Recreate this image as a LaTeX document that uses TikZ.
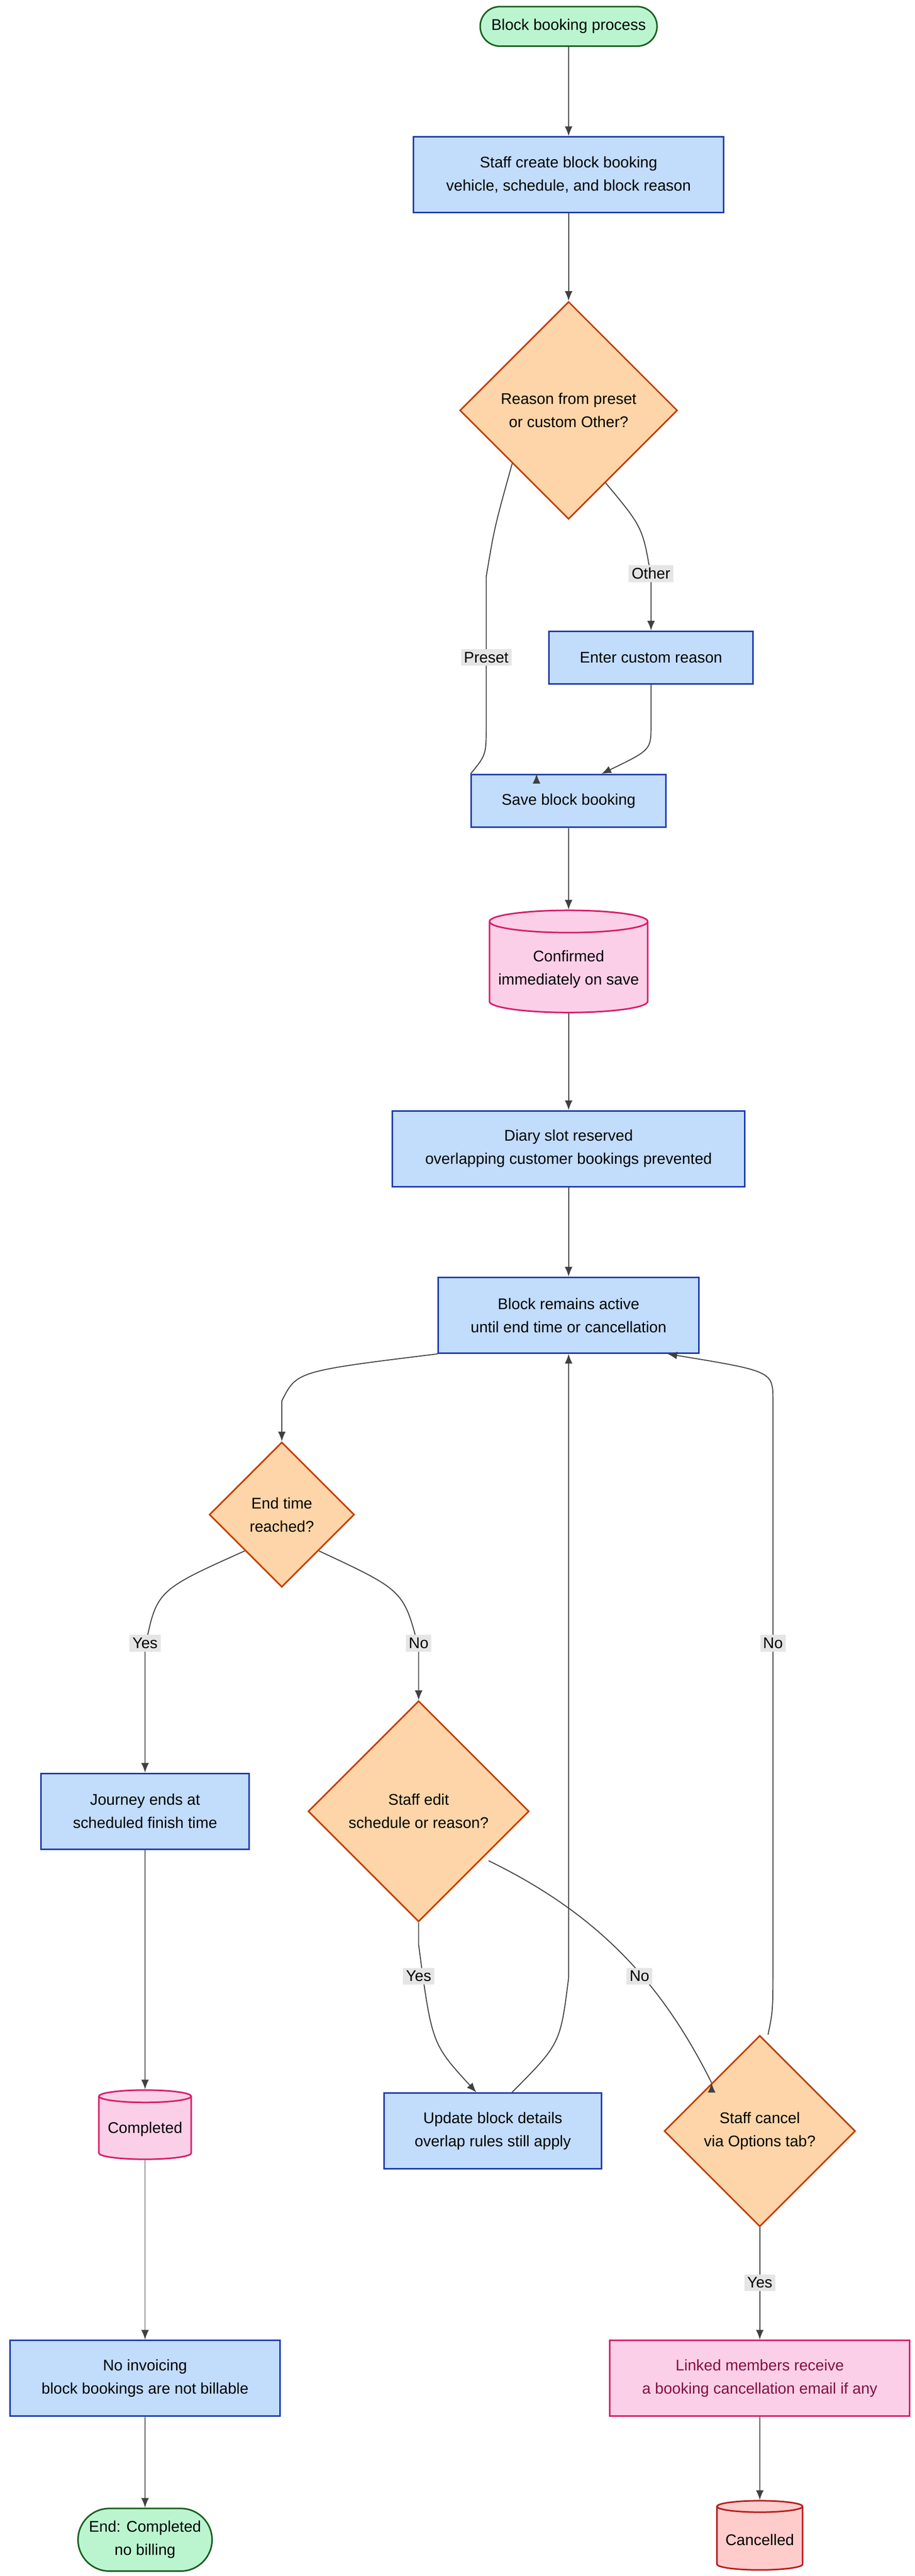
\documentclass[tikz,border=0pt]{standalone}
\usepackage{fontspec}
\setmainfont{Liberation Sans}
\usetikzlibrary{shapes.geometric}
\usetikzlibrary{arrows.meta}

\definecolor{procfill}{HTML}{C2DCFC}
\definecolor{procline}{HTML}{1F3DB0}
\definecolor{decfill}{HTML}{FDD5A8}
\definecolor{decline}{HTML}{C43C00}
\definecolor{dbfill}{HTML}{FBCFE8}
\definecolor{dbline}{HTML}{D81B6A}
\definecolor{termfill}{HTML}{BBF5D0}
\definecolor{termline}{HTML}{1B5E20}
\definecolor{cxfill}{HTML}{FFCCCC}
\definecolor{cxline}{HTML}{B71C1C}

\tikzset{
  base/.style={draw, line width=0.8pt, align=center, font=\fontsize{8}{12}\selectfont, inner sep=2pt},
  proc/.style={base, rectangle, fill=procfill, draw=procline},
  dec/.style={base, diamond, aspect=1, fill=decfill, draw=decline, inner sep=0pt},
  db/.style={base, cylinder, shape border rotate=90, aspect=0.15, fill=dbfill, draw=dbline},
  term/.style={base, rounded rectangle, fill=termfill, draw=termline},
  flow/.style={-{Latex[length=5pt,width=4pt]}, draw=black!75, line width=0.5pt},
  lbl/.style={fill=black!10, font=\fontsize{8}{10}\selectfont, inner sep=1.5pt}
}
\usetikzlibrary{shapes.misc}

\begin{document}
\begin{tikzpicture}[x=0.03cm, y=-0.03cm]
  \useasboundingbox (0,0) rectangle (555,1563);

  % nodes
  \node[term, minimum width=3.36cm, minimum height=0.72cm] (start) at (345,16) {Block booking process};
  \node[proc, minimum width=5.64cm, minimum height=1.38cm] (create) at (345,106) {Staff create block booking\\vehicle, schedule, and block reason};
  \node[dec, minimum size=3.96cm] (reason) at (345,249) {Reason from preset\\or custom Other?};
  \node[proc, minimum width=3.72cm, minimum height=0.96cm] (custom) at (395,399) {Enter custom reason};
  \node[proc, minimum width=3.54cm, minimum height=0.96cm] (save) at (345,486) {Save block booking};
  \node[db, minimum width=2.88cm, minimum height=1.86cm] (confirmed) at (345,588) {Confirmed\\immediately on save};
  \node[proc, minimum width=6.42cm, minimum height=1.38cm] (diary) at (345,697) {Diary slot reserved\\overlapping customer bookings prevented};
  \node[proc, minimum width=4.74cm, minimum height=1.38cm] (active) at (345,798) {Block remains active\\until end time or cancellation};
  \node[dec, minimum size=2.64cm] (endtime) at (171,919) {End time\\reached?};
  \node[proc, minimum width=3.78cm, minimum height=1.38cm] (journey) at (88,1099) {Journey ends at\\scheduled finish time};
  \node[dec, minimum size=4.02cm] (edit) at (254,1099) {Staff edit\\schedule or reason?};
  \node[db, minimum width=1.68cm, minimum height=1.26cm] (completed) at (88,1292) {Completed};
  \node[proc, minimum width=3.96cm, minimum height=1.38cm] (update) at (299,1293) {Update block details\\overlap rules still apply};
  \node[dec, minimum size=3.48cm] (cancel) at (461,1293) {Staff cancel\\via Options tab?};
  \node[proc, minimum width=4.92cm, minimum height=1.38cm] (noinv) at (88,1443) {No invoicing\\block bookings are not billable};
  \node[proc, fill=dbfill, draw=dbline, text=dbline!60!black, minimum width=5.46cm, minimum height=1.38cm] (linked) at (461,1443) {Linked members receive\\a booking cancellation email if any};
  \node[term, minimum width=2.58cm, minimum height=1.14cm] (endc) at (88,1541) {End: Completed\\no billing};
  \node[db, fill=cxfill, draw=cxline, minimum width=1.56cm, minimum height=1.26cm] (cancelled) at (461,1541) {Cancelled};

  % connectors
  \draw[flow] (start) -- (create);
  \draw[flow] (create) -- (reason);
  \draw[flow] (reason.south west) ++(-1,-1) coordinate (p1) .. controls (300,320) .. (295,350) -- (295,440) .. controls (295,458) .. (save.north west) ++(40,0) coordinate (p1e);
  \draw[flow] (custom.south) -- (395,440) .. controls (395,455) .. ([xshift=0.6cm]save.north);
  \draw[flow] (reason.east) ++(-44,44) coordinate (p2) .. controls (390,320) .. (395,350) -- (custom.north);
  \draw[flow] (save) -- (confirmed);
  \draw[flow] (confirmed) -- (diary);
  \draw[flow] (diary) -- (active);
  \draw[flow] (active.south west) .. controls (180,832) .. (171,850) -- (endtime.north);
  \draw[flow] (endtime.west) ++(22,22) coordinate (p3) .. controls (95,965) .. (88,1000) -- (journey.north);
  \draw[flow] (endtime.east) ++(-22,22) coordinate (p4) .. controls (245,965) .. (254,1000) -- (edit.north);
  \draw[flow] (edit.south) -- (254,1180) .. controls (262,1240) .. ([xshift=-0.3cm]update.north);
  \draw[flow] (edit.east) ++(-25,30) coordinate (p5) .. controls (360,1160) and (400,1200) .. (cancel.north west) ++(0,0);
  \draw[flow] ([xshift=0.35cm]update.north) .. controls (340,1240) .. (345,1200) -- (active.south);
  \draw[flow] (cancel.north) ++(5,0) coordinate (p6) .. controls (469,1220) .. (469,1190) -- (469,850) .. controls (469,832) .. ([xshift=1.8cm]active.south);
  \draw[flow] (cancel) -- (linked);
  \draw[flow] (journey) -- (completed);
  \draw[flow] (completed) -- (noinv);
  \draw[flow] (noinv) -- (endc);
  \draw[flow] (linked) -- (cancelled);

  % labels
  \node[lbl] (lpreset) at (295,399) {Preset};
  \node[lbl] (lother) at (395,348) {Other};
  \node[lbl] (lyes1) at (88,997) {Yes};
  \node[lbl] (lno1) at (254,997) {No};
  \node[lbl] (lyes2) at (254,1199) {Yes};
  \node[lbl] (lno2) at (388,1199) {No};
  \node[lbl] (lno3) at (469,997) {No};
  \node[lbl] (lyes3) at (461,1385) {Yes};
\end{tikzpicture}
\end{document}
